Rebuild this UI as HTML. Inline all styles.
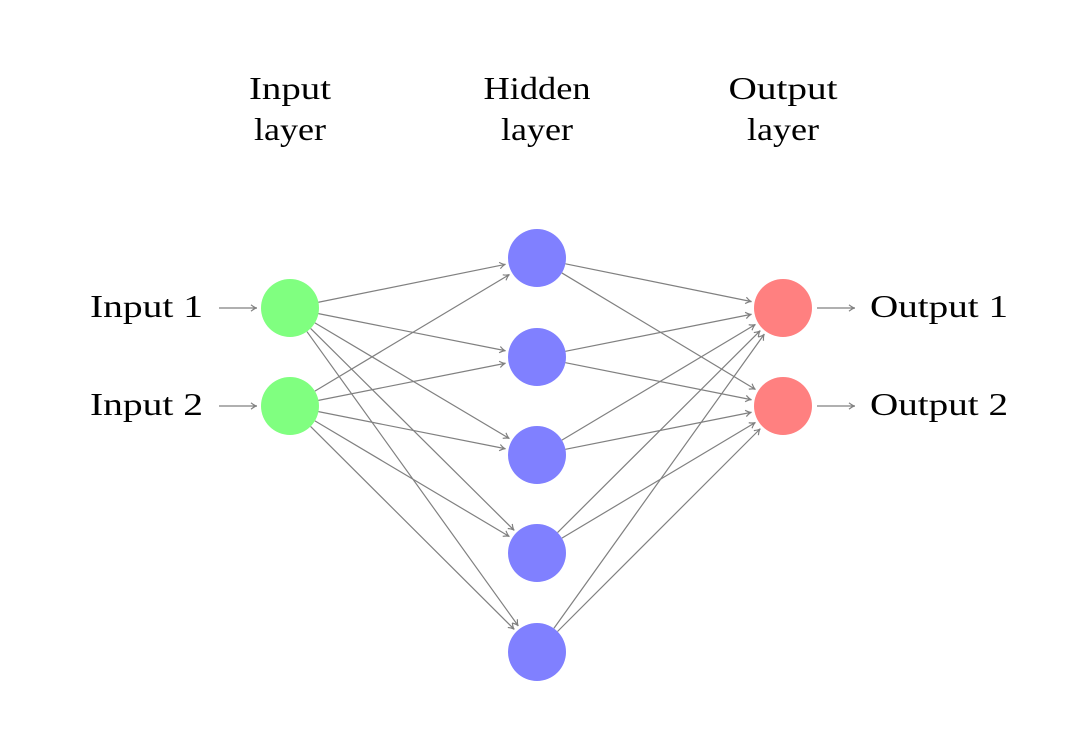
<!DOCTYPE html>
<html><head><meta charset="utf-8"><style>
html,body{margin:0;padding:0;background:#fff;width:1088px;height:736px;overflow:hidden}
svg text{font-family:"Liberation Serif",serif;font-size:32px;fill:#000}
</style></head><body>
<svg id="s" width="1088" height="736" xmlns="http://www.w3.org/2000/svg">
<g text-anchor="middle" lengthAdjust="spacingAndGlyphs">
<text x="290" y="99" textLength="82" lengthAdjust="spacingAndGlyphs">Input</text><text x="290" y="140" textLength="72" lengthAdjust="spacingAndGlyphs">layer</text>
<text x="537" y="99" textLength="107" lengthAdjust="spacingAndGlyphs">Hidden</text><text x="537" y="140" textLength="72" lengthAdjust="spacingAndGlyphs">layer</text>
<text x="783" y="99" textLength="109" lengthAdjust="spacingAndGlyphs">Output</text><text x="783" y="140" textLength="72" lengthAdjust="spacingAndGlyphs">layer</text>
</g>
<text x="90" y="317" textLength="113" lengthAdjust="spacingAndGlyphs">Input 1</text>
<text x="90" y="415" textLength="113" lengthAdjust="spacingAndGlyphs">Input 2</text>
<text x="870" y="317" textLength="138" lengthAdjust="spacingAndGlyphs">Output 1</text>
<text x="870" y="415" textLength="138" lengthAdjust="spacingAndGlyphs">Output 2</text>
<g id="lines" stroke="#808080" stroke-width="1.2" fill="none"></g>
<g id="nodes"></g>
</svg>
<script>
var NS="http://www.w3.org/2000/svg",R=29;
var inp=[[290,308],[290,406]],hid=[[537,258],[537,357],[537,455],[537,553],[537,652]],out=[[783,308],[783,406]];
var L=document.getElementById("lines"),N=document.getElementById("nodes");
function arrow(x1,y1,x2,y2){
 var p=document.createElementNS(NS,"path");
 var dx=x2-x1,dy=y2-y1,l=Math.hypot(dx,dy),ux=dx/l,uy=dy/l;
 var ax=x2-ux*6,ay=y2-uy*6,px=-uy*3.2,py=ux*3.2;
 p.setAttribute("d","M"+x1+" "+y1+"L"+x2+" "+y2+"M"+(ax+px)+" "+(ay+py)+"Q"+(x2-ux*2)+" "+(y2-uy*2)+" "+x2+" "+y2+"Q"+(x2-ux*2)+" "+(y2-uy*2)+" "+(ax-px)+" "+(ay-py));
 L.appendChild(p);
}
function conn(a,b){
 var dx=b[0]-a[0],dy=b[1]-a[1],l=Math.hypot(dx,dy),ux=dx/l,uy=dy/l;
 arrow(a[0]+ux*R,a[1]+uy*R,b[0]-ux*(R+3),b[1]-uy*(R+3));
}
inp.forEach(a=>hid.forEach(b=>conn(a,b)));
hid.forEach(a=>out.forEach(b=>conn(a,b)));
arrow(219,308,257,308);arrow(219,406,257,406);
arrow(817,308,855,308);arrow(817,406,855,406);
function node(c,f){var e=document.createElementNS(NS,"circle");e.setAttribute("cx",c[0]);e.setAttribute("cy",c[1]);e.setAttribute("r",R);e.setAttribute("fill",f);N.appendChild(e);}
inp.forEach(c=>node(c,"#80ff80"));hid.forEach(c=>node(c,"#8080ff"));out.forEach(c=>node(c,"#ff8080"));
</script>
</body></html>
